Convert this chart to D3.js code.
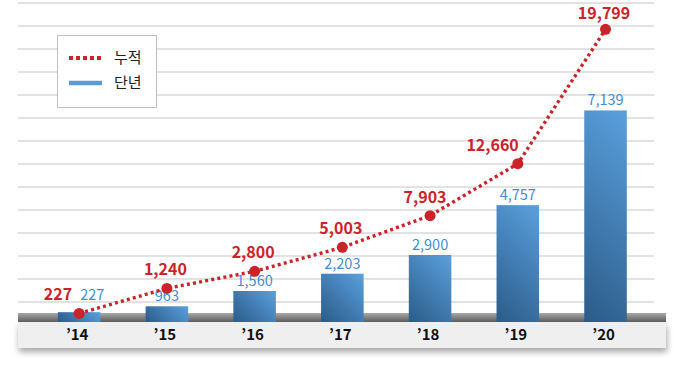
<!DOCTYPE html>
<html><head><meta charset="utf-8">
<script src="https://cdn.jsdelivr.net/npm/d3@7"></script>
<style>html,body{margin:0;padding:0;background:#fff;} svg{display:block;}</style>
</head><body><svg id="chart" width="680" height="367"></svg>
<script>
const categories = ["’14","’15","’16","’17","’18","’19","’20"];
const annualValues = [227, 963, 1560, 2203, 2900, 4757, 7139];
const cumulativeValues = [227, 1240, 2800, 5003, 7903, 12660, 19799];
const seriesNames = ["누적", "단년"];

const FONT = "'Noto Sans CJK KR','Noto Sans',sans-serif";
const RED = "#cc2229", BLUE_TXT = "#3f8dd6";
const svg = d3.select("#chart");
const defs = svg.append("defs");
const baseY = 322, floorTop = 313, plotLeft = 18, plotRight = 666;

const x = d3.scaleBand().domain(categories).range([35.3, 649.4]).paddingInner(0.515).paddingOuter(0.2575);
// the original chart uses a non-uniform (piecewise) vertical scale for each series
const yBar = d3.scaleLinear().domain([0, 1000, 4800, 7200]).range([314, 306, 204, 108]);
const yLine = d3.scaleLinear().domain([0, 1000, 13000, 20000]).range([320, 291, 160, 25.5]);
const yGrid = d3.scaleLinear().domain([0, 13]).range([302, 3]);
const fmt = d3.format(",");
const cx = c => x(c) + x.bandwidth() / 2;

// filters & gradients
const sh = defs.append("filter").attr("id","panelShadow").attr("x","-5%").attr("y","-50%").attr("width","110%").attr("height","250%");
sh.append("feDropShadow").attr("dx",1).attr("dy",4).attr("stdDeviation",3).attr("flood-color","#000").attr("flood-opacity",0.35);
const bandG = defs.append("linearGradient").attr("id","bandGrad").attr("x1",0).attr("y1",0).attr("x2",0).attr("y2",1);
bandG.append("stop").attr("offset",0).attr("stop-color","#a8a8a8");
bandG.append("stop").attr("offset",1).attr("stop-color","#5c5c5c");

// gridlines
svg.append("g").selectAll("line").data(d3.range(14)).join("line")
  .attr("x1", plotLeft).attr("x2", 654)
  .attr("y1", d => yGrid(d)).attr("y2", d => yGrid(d))
  .attr("stroke", "#d9d9d9").attr("stroke-width", 1.5);

// floor panel
svg.append("rect").attr("x", plotLeft).attr("y", baseY).attr("width", plotRight - plotLeft).attr("height", 26)
  .attr("fill", "#efefef").attr("filter", "url(#panelShadow)");
svg.append("rect").attr("x", plotLeft).attr("y", floorTop).attr("width", plotRight - plotLeft).attr("height", baseY - floorTop)
  .attr("fill", "url(#bandGrad)");

// bars
categories.forEach((c, i) => {
  const bx = x(c), w = x.bandwidth(), top = yBar(annualValues[i]), h = baseY - top;
  const g = defs.append("linearGradient").attr("id", "barGrad" + i).attr("gradientUnits", "userSpaceOnUse")
    .attr("x1", bx).attr("y1", baseY).attr("x2", bx + (w + h) / 2).attr("y2", baseY - (w + h) / 2);
  g.append("stop").attr("offset", 0).attr("stop-color", "#2b5b88");
  g.append("stop").attr("offset", 1).attr("stop-color", "#5aa0de");
});
svg.append("g").selectAll("rect").data(categories).join("rect")
  .attr("x", d => x(d)).attr("width", x.bandwidth())
  .attr("y", (d, i) => yBar(annualValues[i]))
  .attr("height", (d, i) => baseY - yBar(annualValues[i]))
  .attr("fill", (d, i) => `url(#barGrad${i})`);

// bar labels
svg.append("g").selectAll("text").data(categories).join("text")
  .attr("x", (d, i) => i === 0 ? cx(d) + 1 : cx(d))
  .attr("y", (d, i) => i === 0 ? yLine(cumulativeValues[0]) - 13 : yBar(annualValues[i]) - 5)
  .attr("text-anchor", (d, i) => i === 0 ? "start" : "middle")
  .attr("font-family", FONT).attr("font-size", 14.5).attr("fill", BLUE_TXT)
  .text((d, i) => fmt(annualValues[i]));

// cumulative line
const line = d3.line().x((d, i) => cx(categories[i])).y(d => yLine(d));
svg.append("path").datum(cumulativeValues).attr("d", line)
  .attr("fill", "none").attr("stroke", RED).attr("stroke-width", 3.4).attr("stroke-dasharray", "3,3.2");
svg.append("g").selectAll("circle").data(cumulativeValues).join("circle")
  .attr("cx", (d, i) => cx(categories[i])).attr("cy", d => yLine(d)).attr("r", 5.5).attr("fill", RED);
svg.append("g").selectAll("text").data(cumulativeValues).join("text")
  .attr("x", (d, i) => cx(categories[i]) + (i === 0 ? -7 : i === 5 ? 1 : i === 4 ? -5 : -1.5))
  .attr("y", (d, i) => yLine(d) - (i === cumulativeValues.length - 1 ? 10 : 13))
  .attr("text-anchor", (d, i) => i === 0 || i === 5 ? "end" : "middle")
  .attr("font-family", FONT).attr("font-size", 16).attr("font-weight", "bold").attr("fill", RED)
  .text(d => fmt(d));

// x axis
const ax = svg.append("g").attr("transform", `translate(0,${baseY})`)
  .call(d3.axisBottom(x).tickSize(0).tickPadding(7));
ax.select(".domain").remove();
ax.selectAll("text").attr("font-family", FONT).attr("font-size", 15).attr("font-weight", "bold").attr("fill", "#111").attr("dx", -2);

// legend
const lg = svg.append("g");
lg.append("rect").attr("x", 57.5).attr("y", 35.5).attr("width", 99).attr("height", 72)
  .attr("fill", "#fff").attr("stroke", "#bfbfbf").attr("stroke-width", 1);
lg.append("line").attr("x1", 69).attr("x2", 103).attr("y1", 58).attr("y2", 58)
  .attr("stroke", RED).attr("stroke-width", 4).attr("stroke-dasharray", "4,3");
lg.append("line").attr("x1", 69).attr("x2", 102).attr("y1", 83).attr("y2", 83)
  .attr("stroke", "#5b9bd5").attr("stroke-width", 4.5);
lg.selectAll("text").data(seriesNames).join("text")
  .attr("x", 114).attr("y", (d, i) => 58 + i * 25).attr("dy", "0.35em")
  .attr("font-family", FONT).attr("font-size", 15).attr("fill", "#222").text(d => d);
</script></body></html>
